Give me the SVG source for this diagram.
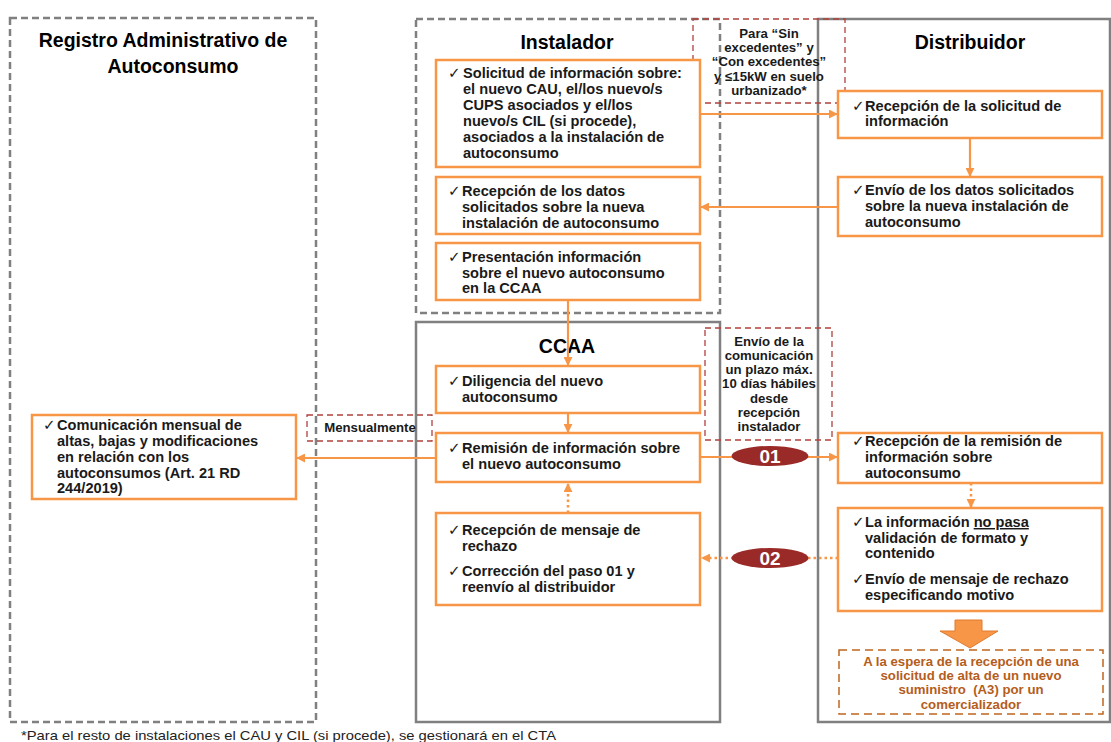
<svg xmlns="http://www.w3.org/2000/svg" width="1111" height="742" viewBox="0 0 1111 742">
<defs>
<style>
.lane{fill:none;stroke:#808080;stroke-width:2.5}
.lane-d{fill:none;stroke:#808080;stroke-width:2.5;stroke-dasharray:7 4}
.box{fill:#fff;stroke:#F79646;stroke-width:2.5}
.note{fill:none;stroke:#B0413E;stroke-width:1.3;stroke-dasharray:6 4}
.wait{fill:#fff;stroke:#C0661F;stroke-width:1.5;stroke-dasharray:8 5}
.title{font-family:"Liberation Sans",Arial,sans-serif;font-weight:bold;font-size:19.5px;fill:#000}
.t{font-family:"Liberation Sans",Arial,sans-serif;font-weight:bold;font-size:14.6px;fill:#1a1a1a}
.ck{font-family:"DejaVu Sans",sans-serif;font-weight:normal;font-size:15px;fill:#1a1a1a}
.n{font-family:"Liberation Sans",Arial,sans-serif;font-weight:bold;font-size:13.2px;fill:#1a1a1a;text-anchor:middle}
.w{font-family:"Liberation Sans",Arial,sans-serif;font-weight:bold;font-size:13.2px;fill:#B55D1C;text-anchor:middle}
.c{fill:none;stroke:#F79646;stroke-width:2.2}
.dot{fill:none;stroke:#F79646;stroke-width:2.5;stroke-dasharray:2.5 3}
.step{fill:#9A2A27}
.stept{font-family:"Liberation Sans",Arial,sans-serif;font-weight:bold;font-size:19px;fill:#fff;text-anchor:middle}
.foot{font-family:"Liberation Sans",Arial,sans-serif;font-size:13px;fill:#222}
</style>
<marker id="ah" viewBox="0 0 10 10" refX="9" refY="5" markerWidth="9" markerHeight="9" markerUnits="userSpaceOnUse" orient="auto">
<path d="M0,0 L10,5 L0,10 Z" fill="#F79646"/>
</marker>
</defs>

<g id="lanes">
<g id="lane-registro">
<rect class="lane-d" x="10" y="18" width="306" height="704"/>
<text class="title" x="163" y="47" text-anchor="middle">Registro Administrativo de</text>
<text class="title" x="173" y="73" text-anchor="middle">Autoconsumo</text>
</g>
<g id="lane-instalador">
<rect class="lane-d" x="416" y="19" width="304" height="294"/>
<text class="title" x="567" y="49" text-anchor="middle">Instalador</text>
</g>
<g id="lane-ccaa">
<rect class="lane" x="416" y="322" width="304" height="400"/>
<text class="title" x="567" y="353" text-anchor="middle">CCAA</text>
</g>
<g id="lane-distribuidor">
<rect class="lane" x="818" y="19" width="292" height="703"/>
<text class="title" x="970" y="49" text-anchor="middle">Distribuidor</text>
</g>
</g>

<g id="connectors">
<line class="c" x1="700" y1="114" x2="837" y2="114" marker-end="url(#ah)"/>
<line class="c" x1="970" y1="138" x2="970" y2="176" marker-end="url(#ah)"/>
<line class="c" x1="838" y1="207" x2="701" y2="207" marker-end="url(#ah)"/>
<line class="c" x1="568" y1="300" x2="568" y2="365" marker-end="url(#ah)"/>
<line class="c" x1="568" y1="413" x2="568" y2="432" marker-end="url(#ah)"/>
<line class="dot" x1="568" y1="513" x2="568" y2="484" marker-end="url(#ah)"/>
<line class="c" x1="700" y1="457" x2="837" y2="457" marker-end="url(#ah)"/>
<line class="dot" x1="971" y1="483" x2="971" y2="507" marker-end="url(#ah)"/>
<line class="dot" x1="838" y1="558" x2="702" y2="558" marker-end="url(#ah)"/>
<line class="c" x1="436" y1="458" x2="297" y2="458" marker-end="url(#ah)"/>
<g id="step01">
<ellipse class="step" cx="770" cy="456" rx="38.5" ry="10"/>
<text class="stept" x="770" y="463">01</text>
</g>
<g id="step02">
<ellipse class="step" cx="770" cy="558" rx="38.5" ry="10"/>
<text class="stept" x="770" y="565">02</text>
</g>
<path id="block-arrow" d="M955,620 L982,620 L982,631 L998,631 L970,648 L940,631 L955,631 Z" fill="#F79646" stroke="#E07B2F" stroke-width="1"/>
</g>

<g id="note-sin-excedentes">
<rect class="note" x="693" y="19" width="152" height="84"/>
<text class="n" x="769" y="38">Para “Sin</text>
<text class="n" x="769" y="52">excedentes” y</text>
<text class="n" x="769" y="66">“Con excedentes”</text>
<text class="n" x="769" y="81">y ≤15kW en suelo</text>
<text class="n" x="769" y="95">urbanizado*</text>
</g>

<g id="inst-1">
<rect class="box" x="436" y="60" width="264" height="107"/>
<text class="ck" x="448" y="78">✓</text>
<text class="t"><tspan x="463" y="78">Solicitud de información sobre:</tspan><tspan x="463" y="94">el nuevo CAU, el/los nuevo/s</tspan><tspan x="463" y="110">CUPS asociados y el/los</tspan><tspan x="463" y="126">nuevo/s CIL (si procede),</tspan><tspan x="463" y="142">asociados a la instalación de</tspan><tspan x="463" y="158">autoconsumo</tspan></text>
</g>
<g id="inst-2">
<rect class="box" x="436" y="177" width="264" height="57"/>
<text class="ck" x="448" y="196">✓</text>
<text class="t"><tspan x="462" y="196">Recepción de los datos</tspan><tspan x="462" y="212">solicitados sobre la nueva</tspan><tspan x="462" y="228">instalación de autoconsumo</tspan></text>
</g>
<g id="inst-3">
<rect class="box" x="436" y="243" width="264" height="57"/>
<text class="ck" x="448" y="262">✓</text>
<text class="t"><tspan x="462" y="262">Presentación información</tspan><tspan x="462" y="278">sobre el nuevo autoconsumo</tspan><tspan x="462" y="293">en la CCAA</tspan></text>
</g>

<g id="dist-1">
<rect class="box" x="838" y="91" width="264" height="47"/>
<text class="ck" x="852" y="111">✓</text>
<text class="t"><tspan x="865" y="111">Recepción de la solicitud de</tspan><tspan x="865" y="126">información</tspan></text>
</g>
<g id="dist-2">
<rect class="box" x="838" y="177" width="264" height="59"/>
<text class="ck" x="852" y="195">✓</text>
<text class="t"><tspan x="865" y="195">Envío de los datos solicitados</tspan><tspan x="865" y="211">sobre la nueva instalación de</tspan><tspan x="865" y="227">autoconsumo</tspan></text>
</g>

<g id="note-plazo">
<rect class="note" x="705" y="328" width="127" height="112"/>
<text class="n" x="769" y="346">Envío de la</text>
<text class="n" x="769" y="360">comunicación</text>
<text class="n" x="769" y="374">un plazo máx.</text>
<text class="n" x="769" y="388">10 días hábiles</text>
<text class="n" x="769" y="403">desde</text>
<text class="n" x="769" y="417">recepción</text>
<text class="n" x="769" y="431">instalador</text>
</g>

<g id="ccaa-1">
<rect class="box" x="436" y="366" width="264" height="47"/>
<text class="ck" x="448" y="386">✓</text>
<text class="t"><tspan x="462" y="386">Diligencia del nuevo</tspan><tspan x="462" y="402">autoconsumo</tspan></text>
</g>
<g id="ccaa-2">
<rect class="box" x="436" y="433" width="264" height="49"/>
<text class="ck" x="448" y="453">✓</text>
<text class="t"><tspan x="462" y="453">Remisión de información sobre</tspan><tspan x="462" y="469">el nuevo autoconsumo</tspan></text>
</g>
<g id="ccaa-3">
<rect class="box" x="436" y="513" width="264" height="92"/>
<text class="ck" x="448" y="535">✓</text>
<text class="t"><tspan x="462" y="535">Recepción de mensaje de</tspan><tspan x="462" y="551">rechazo</tspan></text>
<text class="ck" x="448" y="576">✓</text>
<text class="t"><tspan x="462" y="576">Corrección del paso 01 y</tspan><tspan x="462" y="592">reenvío al distribuidor</tspan></text>
</g>

<g id="dist-3">
<rect class="box" x="838" y="433" width="264" height="50"/>
<text class="ck" x="852" y="446">✓</text>
<text class="t"><tspan x="865" y="446">Recepción de la remisión de</tspan><tspan x="865" y="462">información sobre</tspan><tspan x="865" y="478">autoconsumo</tspan></text>
</g>
<g id="dist-4">
<rect class="box" x="838" y="508" width="264" height="103"/>
<text class="ck" x="852" y="527">✓</text>
<text class="t"><tspan x="865" y="527">La información <tspan text-decoration="underline">no pasa</tspan></tspan><tspan x="865" y="543">validación de formato y</tspan><tspan x="865" y="558">contenido</tspan></text>
<text class="ck" x="852" y="584">✓</text>
<text class="t"><tspan x="865" y="584">Envío de mensaje de rechazo</tspan><tspan x="865" y="600">especificando motivo</tspan></text>
</g>

<g id="wait-a3">
<rect class="wait" x="839" y="650" width="264" height="64"/>
<text class="w" x="971" y="666">A la espera de la recepción de una</text>
<text class="w" x="971" y="680">solicitud de alta de un nuevo</text>
<text class="w" x="971" y="694">suministro &#160;(A3) por un</text>
<text class="w" x="971" y="709">comercializador</text>
</g>

<g id="note-mensual">
<rect class="note" x="307" y="415" width="125" height="26"/>
<text class="n" x="370" y="432">Mensualmente</text>
</g>

<g id="registro-1">
<rect class="box" x="32" y="415" width="264" height="84"/>
<text class="ck" x="43" y="430">✓</text>
<text class="t"><tspan x="57" y="430">Comunicación mensual de</tspan><tspan x="57" y="446">altas, bajas y modificaciones</tspan><tspan x="57" y="462">en relación con los</tspan><tspan x="57" y="478">autoconsumos (Art. 21 RD</tspan><tspan x="57" y="493">244/2019)</tspan></text>
</g>

<text class="foot" x="21" y="740" textLength="535" lengthAdjust="spacingAndGlyphs">*Para el resto de instalaciones el CAU y CIL (si procede), se gestionará en el CTA</text>
</svg>
